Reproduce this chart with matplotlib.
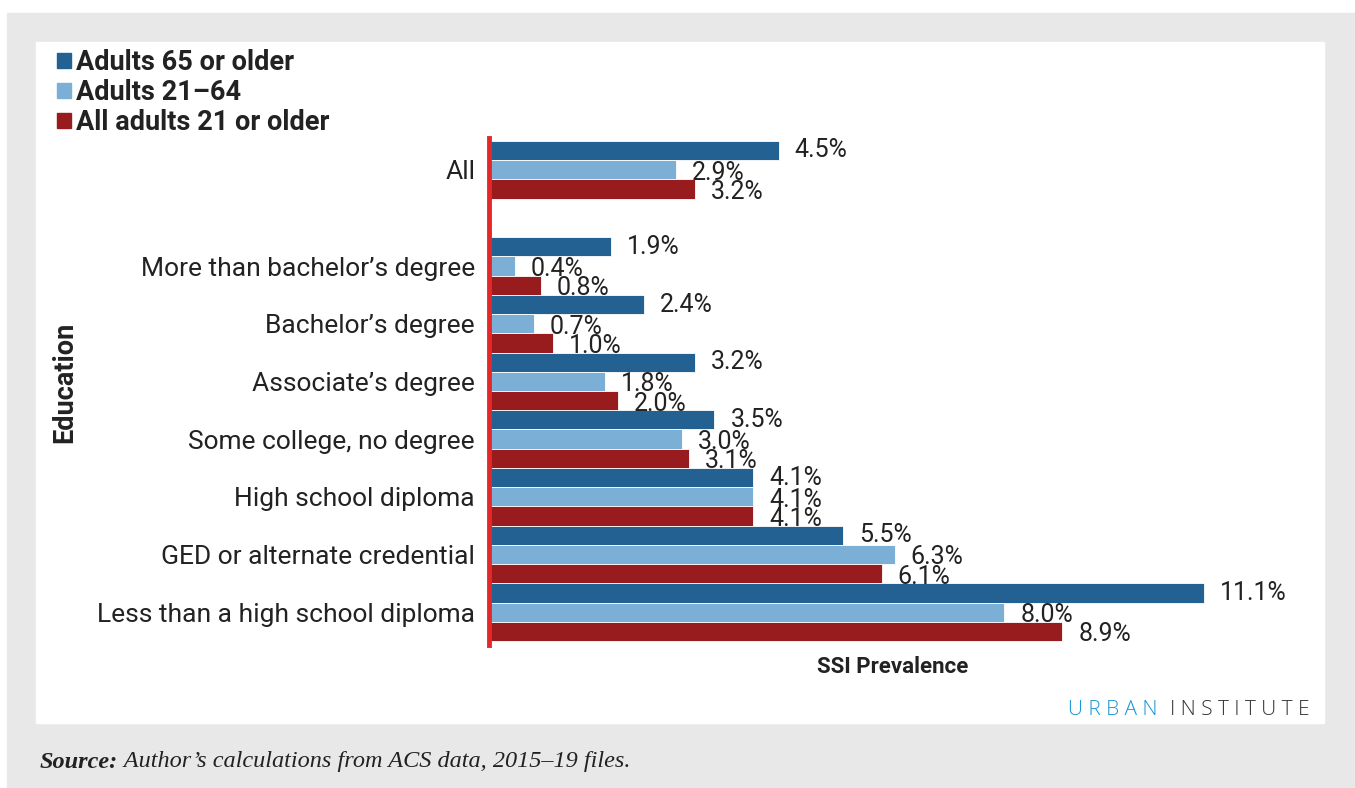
import matplotlib.pyplot as plt
from matplotlib.patches import Rectangle
import numpy as np

categories = ['All', 'More than bachelor\u2019s degree', 'Bachelor\u2019s degree',
              'Associate\u2019s degree', 'Some college, no degree',
              'High school diploma', 'GED or alternate credential',
              'Less than a high school diploma']
series_names = ['Adults 65 or older', 'Adults 21\u201364', 'All adults 21 or older']
adults_65 = [4.5, 1.9, 2.4, 3.2, 3.5, 4.1, 5.5, 11.1]
adults_21_64 = [2.9, 0.4, 0.7, 1.8, 3.0, 4.1, 6.3, 8.0]
all_adults = [3.2, 0.8, 1.0, 2.0, 3.1, 4.1, 6.1, 8.9]

colors = ['#236192', '#7bafd6', '#981b1e']
red_line = '#e4282a'
gray_bg = '#e8e8e8'
txt = '#222222'

plt.rcParams['font.family'] = ['Roboto', 'DejaVu Sans']

fig = plt.figure(figsize=(13.55, 7.88), dpi=100)
fig.patch.set_facecolor('white')

W, H = 1355, 788


def px_rect(x0, y0, x1, y1, color):
    fig.patches.append(Rectangle((x0 / W, 1 - y1 / H), (x1 - x0) / W, (y1 - y0) / H,
                                 transform=fig.transFigure, color=color, zorder=-10))


# background panels
px_rect(7, 13, W, H, gray_bg)
px_rect(36, 42, 1324, 723, 'white')

ax = fig.add_axes([489 / W, 1 - 645 / H, (1296 - 489) / W, (645 - 138) / H])
ax.set_facecolor('none')

# group positions (All is set apart from the rest)
ypos = np.array([7.67, 6, 5, 4, 3, 2, 1, 0])
h = 1 / 3
series = [adults_65, adults_21_64, all_adults]
for i, (vals, c) in enumerate(zip(series, colors)):
    yy = ypos + h - i * h
    ax.barh(yy, vals, height=h, color=c, edgecolor='white', linewidth=0.6,
            label=series_names[i])
    for y, v in zip(yy, vals):
        dy = 0 if i == 0 else -3
        ax.annotate(f'{v:.1f}%', (v, y), xytext=(16, dy), textcoords='offset pixels',
                    ha='left', va='center', fontsize=18, color=txt)

ax.set_xlim(0, 12.53)
ax.set_ylim(-0.57, 8.22)
ax.set_yticks(ypos)
ax.set_yticklabels(categories, fontsize=19, color=txt)
ax.tick_params(axis='y', length=0, pad=10)
ax.set_xticks([])
for s in ['top', 'right', 'bottom']:
    ax.spines[s].set_visible(False)
ax.spines['left'].set_color(red_line)
ax.spines['left'].set_linewidth(3.5)

ax.set_xlabel('SSI Prevalence', fontsize=16, fontweight='bold', color=txt,
              labelpad=8)
fig.text(65 / W, 1 - 382 / H, 'Education', rotation=90, fontsize=19.5,
         fontweight='bold', color=txt, ha='center', va='center')

# legend
leg_y = [61, 91, 121]
for y, name, c in zip(leg_y, series_names, colors):
    px_rect(57, y - 8, 71, y + 7, c)
    fig.text(76 / W, 1 - (y + 2) / H, name, fontsize=19.5, fontweight='bold',
             color=txt, ha='left', va='center')

# branding
fig.text(1158 / W, 1 - 710 / H, 'U R B A N', fontsize=15, color='#1696d2',
         ha='right', va='center', family=['Open Sans', 'DejaVu Sans'], fontweight='light')
fig.text(1170 / W, 1 - 710 / H, 'I N S T I T U T E', fontsize=15, color='#333333',
         ha='left', va='center', family=['Open Sans', 'DejaVu Sans'], fontweight='light')

# source note
serif = ['Liberation Serif', 'DejaVu Serif']
src = fig.text(40 / W, 1 - 762 / H, 'Source:', fontsize=17.5, fontstyle='italic',
               fontweight='bold', color=txt, ha='left', va='center', family=serif)
fig.add_artist(plt.Annotation(' Author\u2019s calculations from ACS data, 2015\u201319 files.',
                              xy=(1, 0.5), xycoords=src, ha='left', va='center',
                              fontsize=17.5, fontstyle='italic', color=txt,
                              family=serif))

fig.savefig('out.png', dpi=100, facecolor=fig.get_facecolor())
